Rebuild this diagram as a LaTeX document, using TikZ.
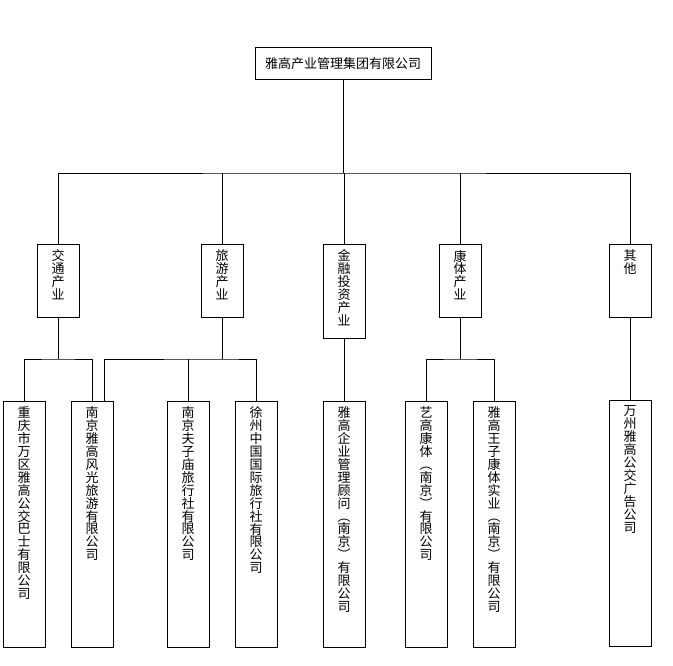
\documentclass[tikz,border=0pt]{standalone}
\usepackage{fontspec}
\newfontfamily\cjk{Noto Sans CJK SC}
\usetikzlibrary{calc}
% one character per line, from the top of the box
\def\chainend{\chainend}
\def\chainI#1{\ifx#1\chainend\else\hbox to 13pt{\hss#1\hss}\expandafter\chainI\fi}
\newcommand\colchars[2]{\vbox to #2{\baselineskip=12.9pt\lineskiplimit=-20pt\vskip 5.5pt\chainI#1\chainend\vss}}
\tikzset{
  unitbox/.style={draw, line width=0.9pt, inner sep=0pt, minimum width=42pt, anchor=north},
  link/.style={line width=0.9pt}
}
\begin{document}
\begin{tikzpicture}[x=1pt,y=-1pt,font=\cjk\fontsize{13}{13}\selectfont]
    \useasboundingbox (0,0) rectangle (673,665);

    % group
    \node [unitbox, minimum width=176pt, minimum height=32pt] (grp) at (343,47) {雅高产业管理集团有限公司};

    % industries
    \node [unitbox] (jt) at (58,244) {\colchars{交通产业}{73pt}};
    \node [unitbox] (ly) at (222,244) {\colchars{旅游产业}{73pt}};
    \node [unitbox] (jr) at (344,244) {\colchars{金融投资产业}{94pt}};
    \node [unitbox] (kt) at (460,244) {\colchars{康体产业}{73pt}};
    \node [unitbox] (qt) at (630,244) {\colchars{其他}{73pt}};

    % companies
    \node [unitbox] (cq) at (24,401) {\colchars{重庆市万区雅高公交巴士有限公司}{246pt}};
    \node [unitbox] (ng) at (92,401) {\colchars{南京雅高风光旅游有限公司}{246pt}};
    \node [unitbox] (fz) at (188,401) {\colchars{南京夫子庙旅行社有限公司}{246pt}};
    \node [unitbox] (xz) at (256,401) {\colchars{徐州中国国际旅行社有限公司}{246pt}};
    \node [unitbox] (yq) at (344,401) {\colchars{雅高企业管理顾问︵南京︶有限公司}{246pt}};
    \node [unitbox] (yg) at (426,401) {\colchars{艺高康体︵南京︶有限公司}{246pt}};
    \node [unitbox] (wz) at (494,401) {\colchars{雅高王子康体实业︵南京︶有限公司}{246pt}};
    \node [unitbox] (wzg) at (630,400) {\colchars{万州雅高公交广告公司}{246pt}};

    % buses
    \coordinate (busA) at (344,173);
    \coordinate (busB) at (0,359);

    \draw [link] (grp.south) -- (grp.south |- busA);
    \draw [link] (jt.north) |- (busA) -| (qt.north);
    \draw [link] (ly.north) -- (ly.north |- busA);
    \draw [link] (jr.north) -- (jr.north |- busA);
    \draw [link] (kt.north) -- (kt.north |- busA);

    \draw [link] (jt.south) -- (jt.south |- busB);
    \draw [link] (cq.north) |- (jt.south |- busB) -| (ng.north);
    \draw [link] (ly.south) -- (ly.south |- busB);
    \draw [link] ([xshift=12pt]ng.north) |- (ly.south |- busB) -| (xz.north);
    \draw [link] (fz.north) -- (fz.north |- busB);
    \draw [link] (jr.south) -- (yq.north);
    \draw [link] (kt.south) -- (kt.south |- busB);
    \draw [link] (yg.north) |- (kt.south |- busB) -| (wz.north);
    \draw [link] (qt.south) -- (wzg.north);

\end{tikzpicture}
\end{document}
